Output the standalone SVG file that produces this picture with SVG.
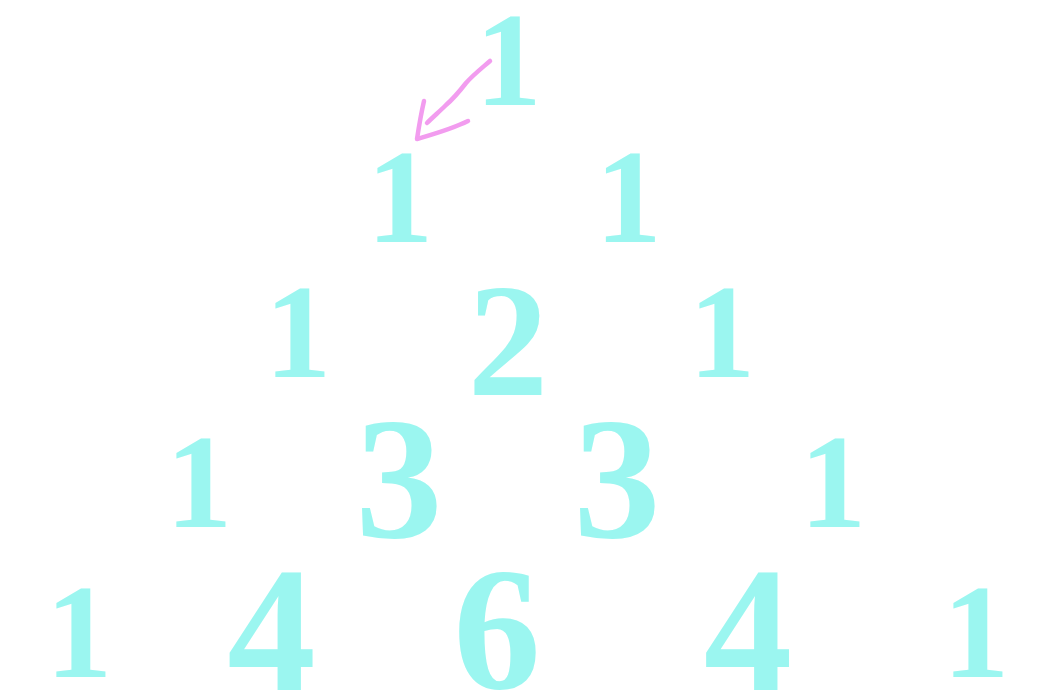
<svg xmlns="http://www.w3.org/2000/svg" width="1049" height="699" viewBox="0 0 1049 699">
<style>
.d{font-family:"Liberation Serif","Times New Roman",serif;font-weight:bold;fill:#9BF6F0;text-anchor:middle}
.one{font-size:133px}
.arrow{fill:none;stroke:#F29CEF;stroke-width:4.5;stroke-linecap:round;stroke-linejoin:round}
</style>
<rect width="1049" height="699" fill="#FFFFFF"/>
<g id="row1">
<g id="n1-1"><text class="d one" x="508.5" y="105">1</text></g>
</g>
<g id="row2">
<g id="n2-1"><text class="d one" x="400" y="242">1</text></g>
<g id="n2-2"><text class="d one" x="628.5" y="242">1</text></g>
</g>
<g id="row3">
<g id="n3-1"><text class="d one" x="298" y="377">1</text></g>
<g id="n3-2"><text class="d" x="508" y="395" font-size="161">2</text></g>
<g id="n3-3"><text class="d one" x="722" y="377">1</text></g>
</g>
<g id="row4">
<g id="n4-1"><text class="d one" x="199" y="527">1</text></g>
<g id="n4-2"><text class="d" x="399" y="537" font-size="174">3</text></g>
<g id="n4-3"><text class="d" x="617" y="537" font-size="174">3</text></g>
<g id="n4-4"><text class="d one" x="833" y="527">1</text></g>
</g>
<g id="row5">
<g id="n5-1"><text class="d one" x="79" y="677">1</text></g>
<g id="n5-2"><text class="d" x="271.5" y="690" font-size="177">4</text></g>
<g id="n5-3"><text class="d" x="497" y="688" font-size="175">6</text></g>
<g id="n5-4"><text class="d" x="748" y="690" font-size="177">4</text></g>
<g id="n5-5"><text class="d one" x="976" y="677">1</text></g>
</g>
<g id="connectors">
<path class="arrow" d="M490,61 C482,68 474,74 466,83 C459,92 453,99 446,105 C440,111 433,117 427,123"/>
<path class="arrow" d="M424,101 C421,114 419,126 417,139 C434,134 452,129 468,121"/>
</g>
</svg>
